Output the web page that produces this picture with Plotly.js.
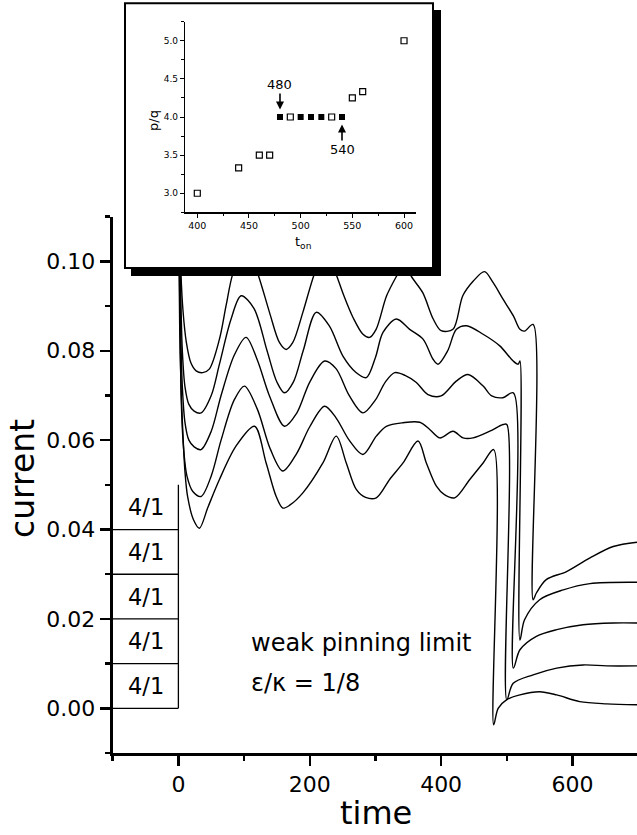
<!DOCTYPE html>
<html>
<head>
<meta charset="utf-8">
<script src="https://cdn.plot.ly/plotly-3.0.1.min.js"></script>
<style>
html,body{margin:0;padding:0;background:#fff;}
#chart{width:637px;height:835px;}
</style>
</head>
<body>
<div id="chart"></div>
<script>
// ---------- main panel data: current vs time (five runs, t_on = 540, 520, 510, 500, 480) ----------
const c1_t = [0, 2, 4, 7, 12, 19, 27, 37, 47, 62.5, 72.6, 82.8, 102, 121, 138.7, 154, 164, 174, 189.5, 207, 224, 240, 252, 266, 281, 291, 301, 317, 334, 345, 354, 372, 388, 400, 418, 433, 449, 466, 479, 494, 510, 520, 527, 540, 540, 545, 560, 591, 626, 662, 700];
const c1_v = [0.13, 0.11, 0.097, 0.089, 0.082, 0.0773, 0.0755, 0.0751, 0.0759, 0.0826, 0.0901, 0.0972, 0.104, 0.0972, 0.0886, 0.0818, 0.0803, 0.0818, 0.0886, 0.0972, 0.103, 0.0972, 0.0923, 0.0874, 0.0837, 0.0830, 0.0848, 0.0923, 0.0972, 0.100, 0.0968, 0.0930, 0.0871, 0.0845, 0.0848, 0.0923, 0.0956, 0.0977, 0.0953, 0.0916, 0.0878, 0.0848, 0.0844, 0.0859, 0.0243, 0.0258, 0.0288, 0.0306, 0.0336, 0.0362, 0.0372];

const c2_t = [0, 2, 4, 6, 10, 16, 24, 34.5, 50, 62.5, 80, 95.5, 115, 135, 150, 161.6, 175, 190, 209.9, 230, 250.5, 270, 286.1, 300, 311.5, 331.8, 352.1, 372.5, 387.7, 395.3, 410, 423.3, 438.5, 463.9, 489.3, 509.7, 517.3, 520, 520, 527, 550, 586, 626.5, 700];
const c2_v = [0.13, 0.105, 0.09, 0.08, 0.072, 0.068, 0.0665, 0.0661, 0.070, 0.077, 0.087, 0.0923, 0.0895, 0.080, 0.073, 0.0706, 0.073, 0.080, 0.0886, 0.0855, 0.0788, 0.0752, 0.0740, 0.0785, 0.0841, 0.0871, 0.0848, 0.0826, 0.0781, 0.0770, 0.0800, 0.0848, 0.0856, 0.0837, 0.0811, 0.0777, 0.0770, 0.0777, 0.0153, 0.0198, 0.0243, 0.0265, 0.0279, 0.0282];

const c3_t = [0, 2, 3.5, 6, 10, 16, 24, 34.5, 50, 65, 85, 103, 120, 138.7, 161.6, 180, 200, 222.6, 240, 260, 281, 300, 315, 329.3, 345, 362.3, 380, 400, 423, 441, 464, 477, 494, 510, 510, 520, 545, 576, 616, 662, 700];
const c3_v = [0.13, 0.10, 0.085, 0.072, 0.064, 0.0600, 0.0585, 0.0579, 0.062, 0.070, 0.079, 0.083, 0.078, 0.0699, 0.0631, 0.066, 0.0730, 0.0777, 0.0760, 0.0700, 0.0661, 0.0690, 0.0730, 0.0751, 0.0745, 0.0729, 0.0702, 0.0699, 0.0732, 0.0747, 0.0721, 0.0699, 0.0695, 0.0706, 0.0090, 0.0131, 0.0161, 0.0176, 0.0187, 0.0191, 0.0191];

const c4_t = [0, 1.5, 3, 5, 8, 13, 22, 34.5, 50, 65, 85, 100.6, 120, 140, 159, 180, 200, 222.6, 240, 260, 281, 301.3, 316.6, 342, 367.4, 382.6, 397.9, 418.2, 433.4, 448.7, 474.1, 494.4, 500, 500, 509.7, 540, 576, 616, 652, 700];
const c4_v = [0.13, 0.10, 0.08, 0.066, 0.058, 0.052, 0.0485, 0.0474, 0.052, 0.060, 0.069, 0.0721, 0.067, 0.058, 0.0531, 0.057, 0.063, 0.0676, 0.065, 0.0600, 0.0568, 0.0609, 0.0631, 0.0639, 0.0640, 0.0624, 0.0605, 0.0620, 0.0605, 0.0605, 0.0620, 0.0635, 0.0635, 0.0019, 0.0056, 0.0075, 0.0090, 0.0097, 0.0095, 0.0095];

const c5_t = [0, 1, 2, 4, 6.6, 10, 14, 23, 32, 45, 62.5, 87.9, 115.9, 133.6, 148.9, 159, 170, 189.5, 220, 240.3, 255.6, 270.8, 285, 301.3, 321.6, 342, 364.8, 377.5, 392.8, 405, 420.7, 443.6, 463.9, 480, 480, 486.8, 499.5, 520, 550, 576, 611, 652, 700];
const c5_v = [0.13, 0.10, 0.085, 0.072, 0.0624, 0.053, 0.0474, 0.0422, 0.0403, 0.045, 0.0512, 0.0587, 0.0631, 0.0549, 0.0474, 0.0448, 0.0455, 0.0482, 0.0549, 0.0609, 0.0549, 0.0490, 0.0472, 0.0471, 0.0512, 0.0549, 0.0598, 0.0549, 0.0497, 0.0478, 0.0471, 0.0512, 0.0549, 0.0579, -0.0037, 0.0, 0.0019, 0.0030, 0.0037, 0.0030, 0.0015, 0.0010, 0.0008];

// ---------- box labels on the left ----------
const boxLabels = ['4/1', '4/1', '4/1', '4/1', '4/1'];

// ---------- inset data: p/q vs t_on ----------
const insetOpen_t  = [400, 440, 460, 470, 490, 530, 550, 560, 600];
const insetOpen_pq = [3.0, 3.333, 3.5, 3.5, 4.0, 4.0, 4.25, 4.333, 5.0];
const insetFilled_t  = [480, 500, 510, 520, 540];
const insetFilled_pq = [4.0, 4.0, 4.0, 4.0, 4.0];

// ---------- layout helpers (pixel -> paper fraction) ----------
const W = 637, H = 835;
const fx = p => p / W;
const fy = p => (H - p) / H;
const FONT = 'DejaVu Sans, Arial, sans-serif';

const curves = [[c1_t, c1_v], [c2_t, c2_v], [c3_t, c3_v], [c4_t, c4_v], [c5_t, c5_v]];
const traces = curves.map(([t, v]) => ({
  type: 'scatter', mode: 'lines', x: t, y: v, xaxis: 'x', yaxis: 'y',
  line: {color: '#000', width: 1.4, shape: 'spline', smoothing: 0.9},
  hoverinfo: 'skip', showlegend: false
}));

// empty placeholder trace so the white inset panel (x2/y2) exists and hides the curves beneath it
traces.push({type: 'scatter', mode: 'lines', x: [null], y: [null], xaxis: 'x2', yaxis: 'y2',
             hoverinfo: 'skip', showlegend: false});

traces.push({
  type: 'scatter', mode: 'markers', x: insetOpen_t, y: insetOpen_pq, xaxis: 'x3', yaxis: 'y3',
  marker: {symbol: 'square-open', size: 6, color: '#000', line: {width: 1.2, color: '#000'}},
  hoverinfo: 'skip', showlegend: false
});
traces.push({
  type: 'scatter', mode: 'markers', x: insetFilled_t, y: insetFilled_pq, xaxis: 'x3', yaxis: 'y3',
  marker: {symbol: 'square', size: 6, color: '#000'},
  hoverinfo: 'skip', showlegend: false
});

const shapes = [];
const annotations = [];

// left label boxes
boxLabels.forEach((lab, i) => {
  shapes.push({type: 'line', xref: 'x', yref: 'y', x0: -100, x1: 0, y0: i * 0.01, y1: i * 0.01,
               line: {color: '#000', width: 1.3}, layer: 'above'});
  annotations.push({xref: 'x', yref: 'y', x: -50, y: i * 0.01 + 0.005, text: lab, showarrow: false,
                    font: {family: FONT, size: 22.5, color: '#000'}});
});
shapes.push({type: 'line', xref: 'x', yref: 'y', x0: 0, x1: 0, y0: 0, y1: 0.05,
             line: {color: '#000', width: 1.3}, layer: 'above'});

// inset frame and shadow
shapes.push({type: 'rect', xref: 'paper', yref: 'paper', x0: fx(125), x1: fx(433), y0: fy(268), y1: fy(3.3),
             line: {color: '#000', width: 2}, fillcolor: 'rgba(0,0,0,0)', layer: 'above'});
shapes.push({type: 'rect', xref: 'paper', yref: 'paper', x0: fx(434), x1: fx(441), y0: fy(276), y1: fy(10),
             line: {width: 0}, fillcolor: '#000', layer: 'above'});
shapes.push({type: 'rect', xref: 'paper', yref: 'paper', x0: fx(131), x1: fx(441), y0: fy(276), y1: fy(269),
             line: {width: 0}, fillcolor: '#000', layer: 'above'});

// text in main panel
annotations.push({xref: 'x', yref: 'y', x: 108, y: 0.0146, xanchor: 'left', text: 'weak pinning limit',
                  showarrow: false, font: {family: FONT, size: 24, color: '#000'}});
annotations.push({xref: 'x', yref: 'y', x: 108, y: 0.0057, xanchor: 'left', text: 'ε/κ = 1/8',
                  showarrow: false, font: {family: FONT, size: 24, color: '#000'}});

// axis titles
annotations.push({xref: 'paper', yref: 'paper', x: fx(22), y: fy(479), text: 'current', textangle: -90,
                  xanchor: 'center', yanchor: 'middle',
                  showarrow: false, font: {family: FONT, size: 33, color: '#000'}});
annotations.push({xref: 'paper', yref: 'paper', x: fx(376), y: fy(813), text: 'time',
                  xanchor: 'center', yanchor: 'middle',
                  showarrow: false, font: {family: FONT, size: 32, color: '#000'}});

// inset annotations
annotations.push({xref: 'x3', yref: 'y3', x: 480, y: 4.1, ax: 0, ay: -25, text: '480', showarrow: true,
                  arrowhead: 2, arrowsize: 1, arrowwidth: 1.6, arrowcolor: '#000', standoff: 0,
                  font: {family: FONT, size: 13, color: '#000'}});
annotations.push({xref: 'x3', yref: 'y3', x: 540, y: 3.9, ax: 0, ay: 25, text: '540', showarrow: true,
                  arrowhead: 2, arrowsize: 1, arrowwidth: 1.6, arrowcolor: '#000', standoff: 0,
                  font: {family: FONT, size: 13, color: '#000'}});
annotations.push({xref: 'paper', yref: 'paper', x: fx(153), y: fy(121), text: 'p/q', textangle: -90,
                  xanchor: 'center', yanchor: 'middle',
                  showarrow: false, font: {family: FONT, size: 13, color: '#000'}});
annotations.push({xref: 'paper', yref: 'paper', x: fx(303), y: fy(242), text: 't<sub>on</sub>',
                  xanchor: 'center', yanchor: 'middle',
                  showarrow: false, font: {family: FONT, size: 13, color: '#000'}});

const layout = {
  width: W, height: H,
  margin: {l: 0, r: 0, t: 0, b: 0, pad: 0, autoexpand: false},
  paper_bgcolor: '#ffffff', plot_bgcolor: '#ffffff',
  showlegend: false,
  font: {family: FONT, color: '#000'},
  xaxis: {
    domain: [fx(112.7), 1], range: [-100, 698.2], anchor: 'y',
    showline: true, linecolor: '#000', linewidth: 3,
    ticks: 'outside', ticklen: 10, tickwidth: 2.5, tickcolor: '#000',
    tick0: 0, dtick: 200,
    minor: {tick0: 0, dtick: 100, ticks: 'outside', ticklen: 5, tickwidth: 2.5, tickcolor: '#000'},
    showgrid: false, zeroline: false, fixedrange: true, automargin: false,
    tickfont: {family: FONT, size: 22, color: '#000'}
  },
  yaxis: {
    domain: [fy(753), fy(216.7)], range: [-0.01, 0.11], anchor: 'x',
    showline: true, linecolor: '#000', linewidth: 3,
    ticks: 'outside', ticklen: 10, tickwidth: 2.5, tickcolor: '#000',
    tick0: 0, dtick: 0.02, tickformat: '.2f',
    minor: {tick0: 0, dtick: 0.01, ticks: 'outside', ticklen: 5, tickwidth: 2.5, tickcolor: '#000'},
    showgrid: false, zeroline: false, fixedrange: true, automargin: false,
    tickfont: {family: FONT, size: 22, color: '#000'}
  },
  xaxis2: {
    domain: [fx(125), fx(433)], range: [0, 1], anchor: 'y2',
    showline: false, showticklabels: false, ticks: '', showgrid: false, zeroline: false, fixedrange: true
  },
  yaxis2: {
    domain: [fy(268), fy(3.3)], range: [0, 1], anchor: 'x2',
    showline: false, showticklabels: false, ticks: '', showgrid: false, zeroline: false, fixedrange: true
  },
  xaxis3: {
    domain: [fx(185), fx(415.7)], range: [388.1, 611.3], anchor: 'y3',
    showline: true, linecolor: '#000', linewidth: 1.2,
    ticks: 'outside', ticklen: 4, tickwidth: 1, tickcolor: '#000',
    tick0: 400, dtick: 50,
    minor: {tick0: 400, dtick: 25, ticks: 'outside', ticklen: 2.5, tickwidth: 1, tickcolor: '#000'},
    showgrid: false, zeroline: false, fixedrange: true,
    tickfont: {family: FONT, size: 9.5, color: '#000'}
  },
  yaxis3: {
    domain: [fy(212.3), fy(21.7)], range: [2.75, 5.25], anchor: 'x3',
    showline: true, linecolor: '#000', linewidth: 1.2,
    ticks: 'outside', ticklen: 4, tickwidth: 1, tickcolor: '#000',
    tick0: 3, dtick: 0.5, tickformat: '.1f',
    minor: {tick0: 3, dtick: 0.25, ticks: 'outside', ticklen: 2.5, tickwidth: 1, tickcolor: '#000'},
    showgrid: false, zeroline: false, fixedrange: true,
    tickfont: {family: FONT, size: 9, color: '#000'}
  },
  shapes: shapes,
  annotations: annotations
};

Plotly.newPlot('chart', traces, layout, {displayModeBar: false, staticPlot: true});
</script>
</body>
</html>
